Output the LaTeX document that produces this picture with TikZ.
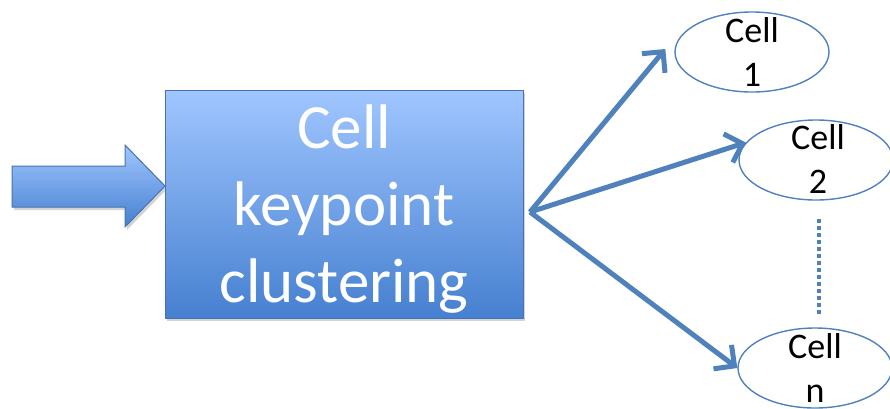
\documentclass[tikz,border=0pt]{standalone}
\usepackage{fontspec}
\setmainfont{Carlito}
\usetikzlibrary{arrows.meta,shapes.geometric,shadows,calc}
\definecolor{edgeblue}{RGB}{79,129,189}
\definecolor{topblue}{RGB}{160,198,255}
\definecolor{botblue}{RGB}{70,128,208}
\definecolor{boxline}{RGB}{70,114,176}
\tikzset{
  fanarrow/.style={draw=edgeblue,line width=5pt,-{Straight Barb[length=15pt,width=30pt]},
     drop shadow={opacity=0.2,shadow xshift=1.5pt,shadow yshift=-2pt}},
  cellshape/.style={ellipse,draw=edgeblue,line width=1.4pt,minimum width=154pt,minimum height=80pt,inner sep=0pt},
  celltext/.style={font=\fontsize{36}{44}\selectfont,align=center,inner sep=0pt,text=black},
  mainbox/.style={draw=boxline,line width=1pt,top color=topblue,bottom color=botblue,
     minimum width=358pt,minimum height=228pt,inner sep=0pt,
     drop shadow={opacity=0.35,shadow xshift=2pt,shadow yshift=-3pt}},
  boxtext/.style={font=\fontsize{63}{77}\selectfont,align=center,text=white,inner sep=0pt}
}
\begin{document}
\begin{tikzpicture}[x=1pt,y=-1pt]
\useasboundingbox (0,0) rectangle (890,408);
\clip (0,0) rectangle (890,408);
% input block arrow
\shade[top color=topblue,bottom color=botblue,draw=boxline,line width=1pt,
  drop shadow={opacity=0.35,shadow xshift=2pt,shadow yshift=-3pt}]
  (12,166) -- (125,166) -- (125,145) -- (165,186) -- (125,227) -- (125,207) -- (12,207) -- cycle;
% main box
\node[mainbox] (box) at (344,204) {};
\node[boxtext] (boxlabel) at (344,209) {Cell\\keypoint\\clustering};
% cells
\node[cellshape] (c1) at (752,52) {};
\node[celltext] (t1) at (752,52) {Cell\\1};
\node[cellshape] (c2) at (816,160) {};
\node[celltext] (t2) at (818,159) {Cell\\2};
\node[cellshape] (cn) at (815,368) {};
\node[celltext] (tn) at (815,368) {Cell\\n};
% hub and fan arrows
\coordinate (hub) at (530,212);
\draw[fanarrow] (hub) -- ([xshift=-9pt,yshift=3pt]c1.west);
\draw[fanarrow] (hub) -- (c2.166);
\draw[fanarrow] (hub) -- (cn.west);
% dotted connector
\draw[edgeblue,line width=4pt,dash pattern=on 4pt off 3pt] ($(c2.south)+(3,18)$) -- ($(cn.north)+(4,-13)$);
\end{tikzpicture}
\end{document}
